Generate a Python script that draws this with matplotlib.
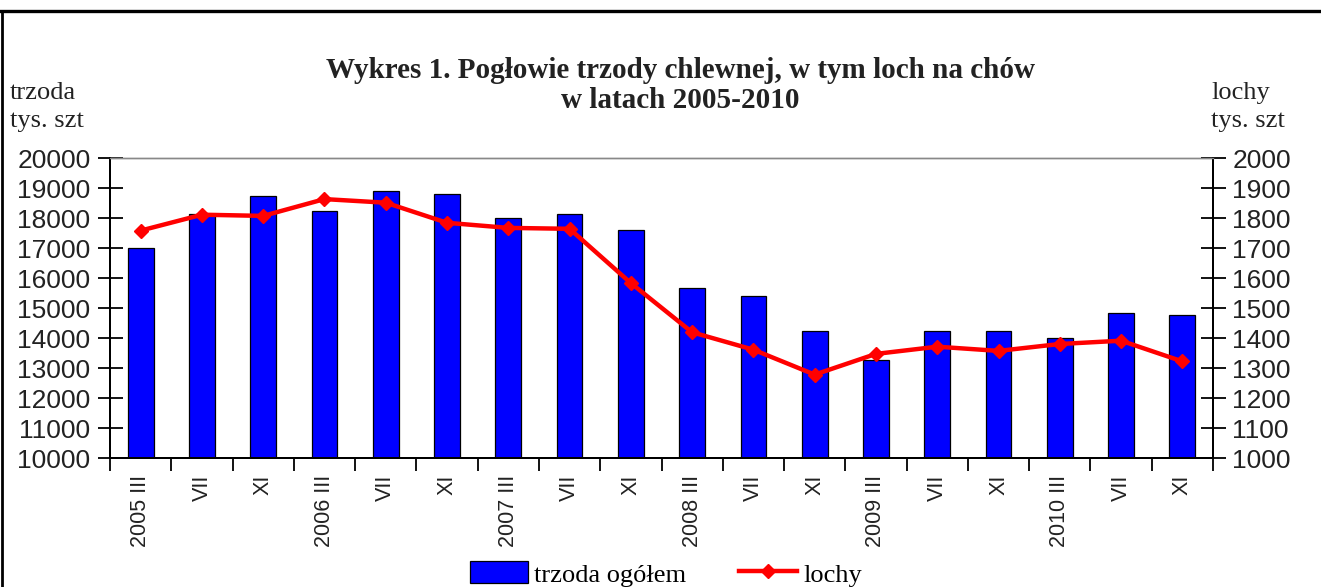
import matplotlib
matplotlib.use("Agg")
import matplotlib.pyplot as plt
from matplotlib.lines import Line2D
from matplotlib.patches import Patch
import numpy as np

# ---- data ----
labels = ["2005 III", "VII", "XI", "2006 III", "VII", "XI",
          "2007 III", "VII", "XI", "2008 III", "VII", "XI",
          "2009 III", "VII", "XI", "2010 III", "VII", "XI"]
trzoda = [17000, 18130, 18730, 18220, 18890, 18790,
          18010, 18120, 17600, 15670, 15410, 14230,
          13270, 14230, 14230, 13990, 14840, 14760]
lochy = [1758, 1811, 1807, 1863, 1851, 1784,
         1767, 1764, 1583, 1419, 1361, 1278,
         1347, 1371, 1357, 1380, 1391, 1322]

W, H = 1321, 587
fig = plt.figure(figsize=(W / 100, H / 100), dpi=100)
fig.patch.set_facecolor("white")

L, R, T, B = 110, 1213, 158, 458
ax = fig.add_axes([L / W, 1 - B / H, (R - L) / W, (B - T) / H])
ax2 = ax.twinx()

x = np.arange(len(labels))
ax.bar(x, trzoda, width=0.42, color="#0000FF", edgecolor="black",
       linewidth=0.9, zorder=2)
ax.set_xlim(-0.5, len(labels) - 0.5)
ax.set_ylim(10000, 20000)
ax.set_yticks(np.arange(10000, 20001, 1000))

ax2.plot(x, lochy, color="#FF0000", linewidth=3.2, marker="D",
         markersize=7, zorder=3)
ax2.set_ylim(1000, 2000)
ax2.set_yticks(np.arange(1000, 2001, 100))
ax2.set_zorder(ax.get_zorder() + 1)
ax2.patch.set_visible(False)

# x ticks: labels at centres, tick marks at boundaries
ax.set_xticks(x)
ax.set_xticklabels(labels, rotation=90, fontsize=15.5,
                   family="Liberation Sans", color="#222222")
ax.tick_params(axis="x", which="major", length=0, pad=12)
ax.set_xticks(np.arange(-0.5, len(labels), 1.0), minor=True)
ax.tick_params(axis="x", which="minor", length=9, width=1.3,
               direction="out", color="black")

for a in (ax, ax2):
    a.tick_params(axis="y", length=18, width=1.3, direction="inout",
                  labelsize=19, color="black", labelcolor="#222222")
    for lab in a.get_yticklabels():
        lab.set_family("Liberation Sans")
ax.tick_params(axis="y", pad=5)
ax2.tick_params(axis="y", pad=5)

for a in (ax, ax2):
    a.spines["top"].set_color("#888888")
    a.spines["top"].set_linewidth(1.0)
    a.spines["left"].set_linewidth(1.4)
    a.spines["right"].set_linewidth(1.4)
    a.spines["bottom"].set_linewidth(1.4)

# titles and unit labels
fig.text(680 / W, 1 - 71 / H, "Wykres 1. Pogłowie trzody chlewnej, w tym loch na chów",
         ha="center", va="center", fontsize=21, fontweight="bold",
         family="Liberation Serif", color="#222222")
fig.text(680 / W, 1 - 101 / H, "w latach 2005-2010",
         ha="center", va="center", fontsize=21, fontweight="bold",
         family="Liberation Serif", color="#222222")
fig.text(10 / W, 1 - 93 / H, "trzoda", ha="left", va="center",
         fontsize=19, family="Liberation Serif", color="#222222")
fig.text(10 / W, 1 - 121 / H, "tys. szt", ha="left", va="center",
         fontsize=19, family="Liberation Serif", color="#222222")
fig.text(1211 / W, 1 - 93 / H, "lochy", ha="left", va="center",
         fontsize=19, family="Liberation Serif", color="#222222")
fig.text(1211 / W, 1 - 121 / H, "tys. szt", ha="left", va="center",
         fontsize=19, family="Liberation Serif", color="#222222")

# legend
handles = [Patch(facecolor="#0000FF", edgecolor="black", linewidth=0.9),
           Line2D([0], [0], color="#FF0000", linewidth=3.2, marker="D",
                  markersize=7)]
leg = fig.legend(handles, ["trzoda ogółem", "lochy"], ncol=2,
                 loc="center", bbox_to_anchor=(666 / W, 1 - 574 / H),
                 frameon=False, prop={"family": "Liberation Serif", "size": 19},
                 handlelength=2.2, handleheight=0.9, columnspacing=2.0,
                 handletextpad=0.25, borderaxespad=0, borderpad=0)

# frame lines of the original box
fig.add_artist(Line2D([0, 1], [1 - 11 / H, 1 - 11 / H], color="black",
                      linewidth=2.4, transform=fig.transFigure))
fig.add_artist(Line2D([2 / W, 2 / W], [0, 1 - 11 / H], color="black",
                      linewidth=2.0, transform=fig.transFigure))

fig.savefig("out.png", dpi=100, facecolor="white")
